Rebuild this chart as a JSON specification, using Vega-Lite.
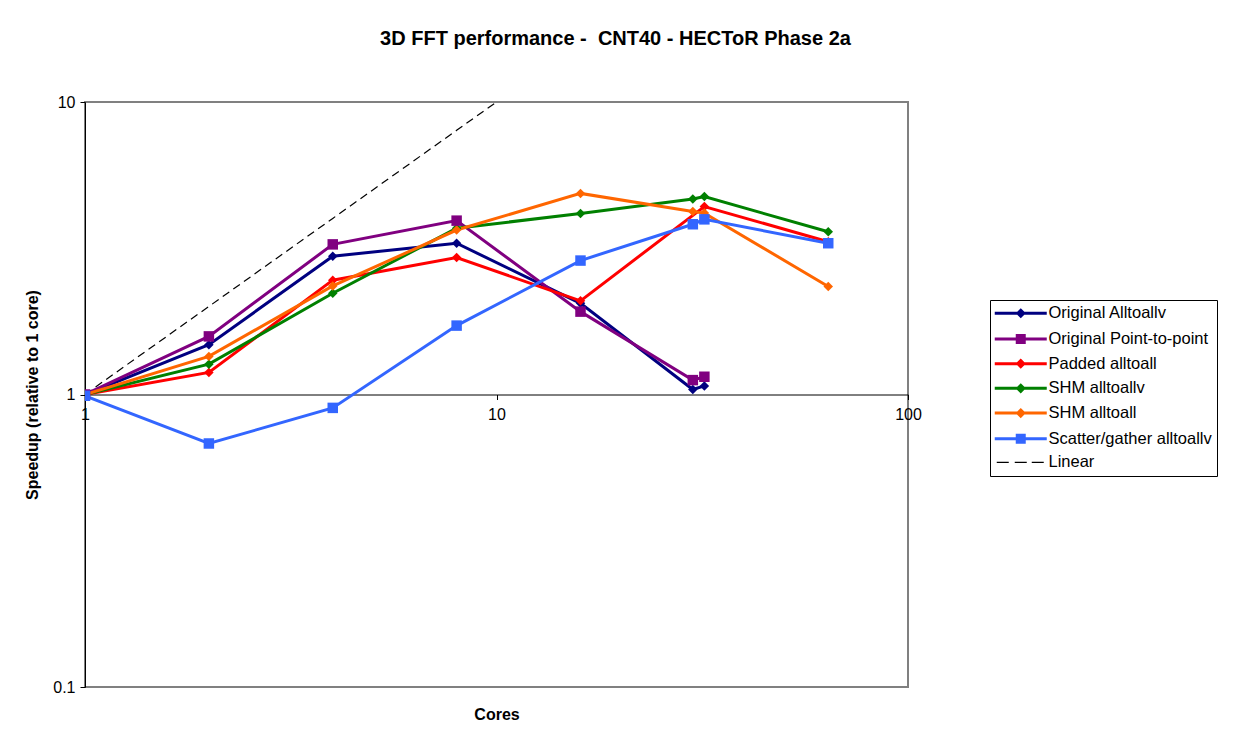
{
  "$schema": "https://vega.github.io/schema/vega-lite/v6.json",
  "autosize": {"type": "none"},
  "width": 823,
  "height": 585,
  "padding": {"left": 85, "top": 102, "right": 341, "bottom": 57},
  "background": "white",
  "config": {"font": "Liberation Sans", "view": {"stroke": "#808080", "strokeWidth": 2}, "axis": {"labelFontSize": 16, "labelColor": "black"}},
  "title": {"text": "3D FFT performance - \u00a0CNT40 - HECToR Phase 2a", "fontSize": 20, "fontWeight": "bold", "font": "Liberation Sans", "anchor": "middle", "dx": 119, "offset": 45, "color": "black"},
  "data": {"values": [
    {"series": "Original Alltoallv", "cores": 1, "speedup": 1},
    {"series": "Original Alltoallv", "cores": 2, "speedup": 1.48},
    {"series": "Original Alltoallv", "cores": 4, "speedup": 2.97},
    {"series": "Original Alltoallv", "cores": 8, "speedup": 3.29},
    {"series": "Original Alltoallv", "cores": 16, "speedup": 2.05},
    {"series": "Original Alltoallv", "cores": 30, "speedup": 1.04},
    {"series": "Original Alltoallv", "cores": 32, "speedup": 1.07},
    {"series": "Original Point-to-point", "cores": 1, "speedup": 1},
    {"series": "Original Point-to-point", "cores": 2, "speedup": 1.58},
    {"series": "Original Point-to-point", "cores": 4, "speedup": 3.26},
    {"series": "Original Point-to-point", "cores": 8, "speedup": 3.93},
    {"series": "Original Point-to-point", "cores": 16, "speedup": 1.92},
    {"series": "Original Point-to-point", "cores": 30, "speedup": 1.12},
    {"series": "Original Point-to-point", "cores": 32, "speedup": 1.15},
    {"series": "Padded alltoall", "cores": 1, "speedup": 1},
    {"series": "Padded alltoall", "cores": 2, "speedup": 1.19},
    {"series": "Padded alltoall", "cores": 4, "speedup": 2.46},
    {"series": "Padded alltoall", "cores": 8, "speedup": 2.94},
    {"series": "Padded alltoall", "cores": 16, "speedup": 2.09},
    {"series": "Padded alltoall", "cores": 32, "speedup": 4.39},
    {"series": "Padded alltoall", "cores": 64, "speedup": 3.33},
    {"series": "SHM alltoallv", "cores": 1, "speedup": 1},
    {"series": "SHM alltoallv", "cores": 2, "speedup": 1.27},
    {"series": "SHM alltoallv", "cores": 4, "speedup": 2.22},
    {"series": "SHM alltoallv", "cores": 8, "speedup": 3.7},
    {"series": "SHM alltoallv", "cores": 16, "speedup": 4.16},
    {"series": "SHM alltoallv", "cores": 30, "speedup": 4.66},
    {"series": "SHM alltoallv", "cores": 32, "speedup": 4.75},
    {"series": "SHM alltoallv", "cores": 64, "speedup": 3.6},
    {"series": "SHM alltoall", "cores": 1, "speedup": 1},
    {"series": "SHM alltoall", "cores": 2, "speedup": 1.35},
    {"series": "SHM alltoall", "cores": 4, "speedup": 2.35},
    {"series": "SHM alltoall", "cores": 8, "speedup": 3.65},
    {"series": "SHM alltoall", "cores": 16, "speedup": 4.87},
    {"series": "SHM alltoall", "cores": 30, "speedup": 4.22},
    {"series": "SHM alltoall", "cores": 32, "speedup": 4.17},
    {"series": "SHM alltoall", "cores": 64, "speedup": 2.34},
    {"series": "Scatter/gather alltoallv", "cores": 1, "speedup": 0.99},
    {"series": "Scatter/gather alltoallv", "cores": 2, "speedup": 0.68},
    {"series": "Scatter/gather alltoallv", "cores": 4, "speedup": 0.9},
    {"series": "Scatter/gather alltoallv", "cores": 8, "speedup": 1.72},
    {"series": "Scatter/gather alltoallv", "cores": 16, "speedup": 2.87},
    {"series": "Scatter/gather alltoallv", "cores": 30, "speedup": 3.82},
    {"series": "Scatter/gather alltoallv", "cores": 32, "speedup": 3.97},
    {"series": "Scatter/gather alltoallv", "cores": 64, "speedup": 3.29},
    {"series": "Linear", "cores": 1, "speedup": 1},
    {"series": "Linear", "cores": 2, "speedup": 2},
    {"series": "Linear", "cores": 4, "speedup": 4},
    {"series": "Linear", "cores": 8, "speedup": 8},
    {"series": "Linear", "cores": 16, "speedup": 16}
  ]},
  "encoding": {
    "x": {"field": "cores", "type": "quantitative",
      "scale": {"type": "log", "domain": [1, 100], "nice": false},
      "axis": {"values": [1, 10, 100], "format": "~g", "offset": -292.5, "grid": false, "domainColor": "black", "tickColor": "black", "tickSize": 5, "labelFontSize": 16, "labelColor": "black", "labelPadding": 7, "labelFlush": false, "title": "Cores", "titleFontSize": 16, "titleFontWeight": "bold", "titleColor": "black", "titleY": 312, "titleBaseline": "top"}},
    "y": {"field": "speedup", "type": "quantitative",
      "scale": {"type": "log", "domain": [0.1, 10], "nice": false},
      "axis": {"values": [0.1, 1, 10], "format": "~g", "grid": false, "domainColor": "black", "tickColor": "black", "tickSize": 5, "labelFontSize": 16, "labelColor": "black", "labelPadding": 5, "labelFlush": false, "title": "Speedup (relative to 1 core)", "titleFontSize": 16, "titleFontWeight": "bold", "titleColor": "black", "titleX": -53, "titleBaseline": "middle"}}
  },
  "layer": [
    {
      "transform": [{"filter": "datum.series === 'Linear'"}],
      "mark": {"type": "line", "color": "black", "strokeWidth": 1.2, "strokeDash": [8, 5], "clip": true},
      "encoding": {}
    },
    {
      "transform": [{"filter": "datum.series !== 'Linear'"}],
      "mark": {"type": "line", "strokeWidth": 3, "clip": true},
      "encoding": {
        "color": {"field": "series", "type": "nominal", "legend": null,
          "scale": {"domain": ["Original Alltoallv", "Original Point-to-point", "Padded alltoall", "SHM alltoallv", "SHM alltoall", "Scatter/gather alltoallv"],
            "range": ["#000080", "#800080", "#FF0000", "#008000", "#FF6600", "#3366FF"]}}
      }
    },
    {
      "transform": [{"filter": "datum.series === 'Original Alltoallv' || datum.series === 'Padded alltoall' || datum.series === 'SHM alltoallv' || datum.series === 'SHM alltoall'"}],
      "mark": {"type": "point", "shape": "diamond", "filled": true, "size": 90, "opacity": 1, "clip": true},
      "encoding": {
        "color": {"field": "series", "type": "nominal", "legend": null}
      }
    },
    {
      "transform": [{"filter": "datum.series === 'Original Point-to-point' || datum.series === 'Scatter/gather alltoallv'"}],
      "mark": {"type": "point", "shape": "square", "filled": true, "size": 110, "opacity": 1, "clip": true},
      "encoding": {
        "color": {"field": "series", "type": "nominal", "legend": null}
      }
    },
    {
      "mark": {"type": "point", "filled": true, "opacity": 0, "clip": true},
      "encoding": {
        "fill": {"field": "series", "type": "nominal",
          "scale": {"domain": ["Original Alltoallv", "Original Point-to-point", "Padded alltoall", "SHM alltoallv", "SHM alltoall", "Scatter/gather alltoallv", "Linear"],
            "range": ["#000080", "#800080", "#FF0000", "#008000", "#FF6600", "#3366FF", "#000000"]},
          "legend": {"title": null, "orient": "none", "legendX": 905, "legendY": 198, "strokeColor": "black", "fillColor": "white", "padding": 5, "labelFontSize": 16.5, "labelColor": "black", "labelLimit": 400, "symbolSize": 100, "symbolStrokeWidth": 3, "symbolOpacity": 1, "labelOffset": 37, "rowPadding": 5.7}},
        "stroke": {"field": "series", "type": "nominal",
          "scale": {"domain": ["Original Alltoallv", "Original Point-to-point", "Padded alltoall", "SHM alltoallv", "SHM alltoall", "Scatter/gather alltoallv", "Linear"],
            "range": ["#000080", "#800080", "#FF0000", "#008000", "#FF6600", "#3366FF", "transparent"]},
          "legend": {"title": null, "orient": "none", "legendX": 905, "legendY": 198, "strokeColor": "black", "fillColor": "white", "padding": 5, "labelFontSize": 16.5, "labelColor": "black", "labelLimit": 400, "symbolSize": 100, "symbolStrokeWidth": 3, "symbolOpacity": 1, "labelOffset": 37, "rowPadding": 5.7}},
        "shape": {"field": "series", "type": "nominal",
          "scale": {"domain": ["Original Alltoallv", "Original Point-to-point", "Padded alltoall", "SHM alltoallv", "SHM alltoall", "Scatter/gather alltoallv", "Linear"],
            "range": ["M-1.7,0H8.7M3.5,-0.6L4.1,0L3.5,0.6L2.9,0Z", "M-1.7,0H8.7M2.8,-0.7H4.2V0.7H2.8Z", "M-1.7,0H8.7M3.5,-0.6L4.1,0L3.5,0.6L2.9,0Z", "M-1.7,0H8.7M3.5,-0.6L4.1,0L3.5,0.6L2.9,0Z", "M-1.7,0H8.7M3.5,-0.6L4.1,0L3.5,0.6L2.9,0Z", "M-1.7,0H8.7M2.8,-0.7H4.2V0.7H2.8Z", "M-1.3,-0.12H1.1V0.12H-1.3ZM2.3,-0.12H4.7V0.12H2.3ZM5.7,-0.12H8.1V0.12H5.7Z"]},
          "legend": {"title": null, "orient": "none", "legendX": 905, "legendY": 198, "strokeColor": "black", "fillColor": "white", "padding": 5, "labelFontSize": 16.5, "labelColor": "black", "labelLimit": 400, "symbolSize": 100, "symbolStrokeWidth": 3, "symbolOpacity": 1, "labelOffset": 37, "rowPadding": 5.7}}
      }
    }
  ]
}
